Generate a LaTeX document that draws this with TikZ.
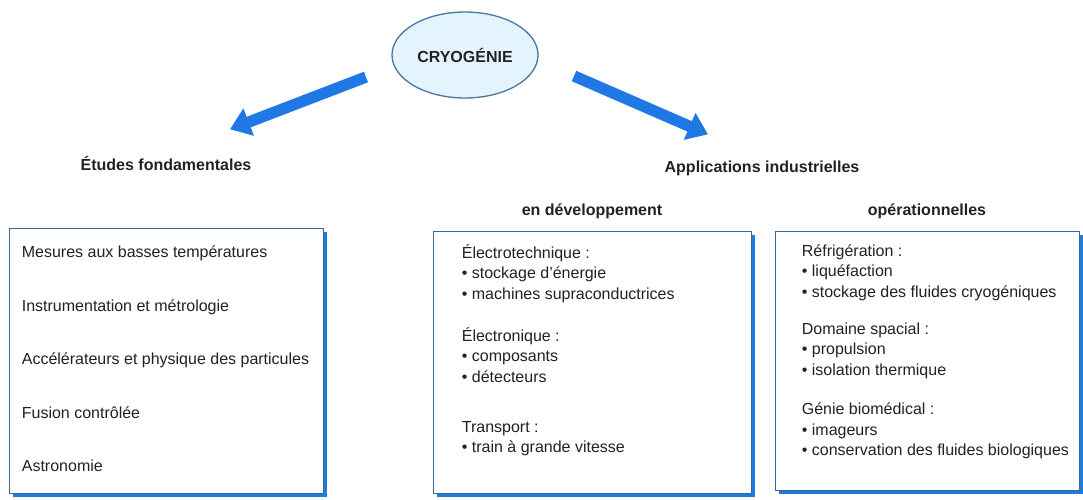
\documentclass[tikz,border=0pt]{standalone}
\usepackage{fontspec}
\setmainfont{Liberation Sans}
\usepackage{xcolor}
\definecolor{cEdge}{HTML}{3D6694}
\definecolor{cShadow}{HTML}{1E7BE0}
\definecolor{cArrow}{HTML}{1F78E4}
\definecolor{cFill}{HTML}{E4F4FC}
\definecolor{cRim}{HTML}{4A79A5}
\definecolor{cText}{HTML}{222222}
\usepackage{tikz}
\usetikzlibrary{positioning,arrows.meta,shapes.geometric,shadows,calc}
\newcommand{\fsize}{\fontsize{12}{15.4}\selectfont}
\tikzset{
  node-main/.style={ellipse,draw=cRim,line width=1pt,fill=cFill,
    minimum width=109.5pt,minimum height=64.5pt,inner sep=0pt,font=\fsize\bfseries},
  node-box/.style={draw=cEdge,line width=0.6pt,fill=white,inner sep=0pt,
    drop shadow={shadow xshift=3pt,shadow yshift=-3pt,fill=cShadow,opacity=1}},
  node-head/.style={font=\fsize\bfseries,inner sep=0pt},
  node-list/.style={align=left,inner sep=0pt,anchor=base west},
  arrow-big/.style={-{Triangle[length=15pt,width=21pt]},line width=8.5pt,draw=cArrow},
}

\begin{document}
\begin{tikzpicture}[x=0.75pt,y=-0.75pt,font=\fsize,text=cText]
  \useasboundingbox (0,0) rectangle (1083,500);
  % centre
  \node[node-main] (cryo) at (465,55) {CRYOGÉNIE};
  % les trois cadres
  \node[node-box,minimum width=235.5pt,minimum height=198.75pt] (lbox) at (166,360.5) {};
  \node[node-box,minimum width=238.5pt,minimum height=196.5pt] (mbox) at (592,362) {};
  \node[node-box,minimum width=228pt,minimum height=194.25pt] (rbox) at (927,360.5) {};
  % titres
  \node[node-head,anchor=base] (etudes) at ([yshift=43pt]lbox.north) {Études fondamentales};
  \node[node-head,anchor=base] (appli) at (762,172.5) {Applications industrielles};
  \node[node-head,above=8.4pt of mbox] (dev) {en développement};
  \node[node-head,above=8.4pt of rbox] (oper) {opérationnelles};
  % contenu (ancre = ligne de base de la dernière ligne)
  \node[node-list] (lst-l) at ([shift={(13,244)}]lbox.north west)
    {Mesures aux basses températures\\[24.75pt]
     Instrumentation et métrologie\\[24.75pt]
     Accélérateurs et physique des particules\\[24.75pt]
     Fusion contrôlée\\[24.75pt]
     Astronomie};
  \node[node-list] (lst-m) at ([shift={(29,222)}]mbox.north west)
    {Électrotechnique :\\
     • stockage d’énergie\\
     • machines supraconductrices\\[16pt]
     Électronique :\\
     • composants\\
     • détecteurs\\[22pt]
     Transport :\\
     • train à grande vitesse};
  \node[node-list] (lst-r) at ([shift={(27,225)}]rbox.north west)
    {Réfrigération :\\
     • liquéfaction\\
     • stockage des fluides cryogéniques\\[12.4pt]
     Domaine spacial :\\
     • propulsion\\
     • isolation thermique\\[13.9pt]
     Génie biomédical :\\
     • imageurs\\
     • conservation des fluides biologiques};
  % flèches
  \draw[arrow-big] ([shift={(-99,22)}]cryo.center) -- ([shift={(64,-34)}]etudes.center);
  \draw[arrow-big] ([shift={(109,21)}]cryo.center) -- ([shift={(-54,-34)}]appli.center);
\end{tikzpicture}
\end{document}
